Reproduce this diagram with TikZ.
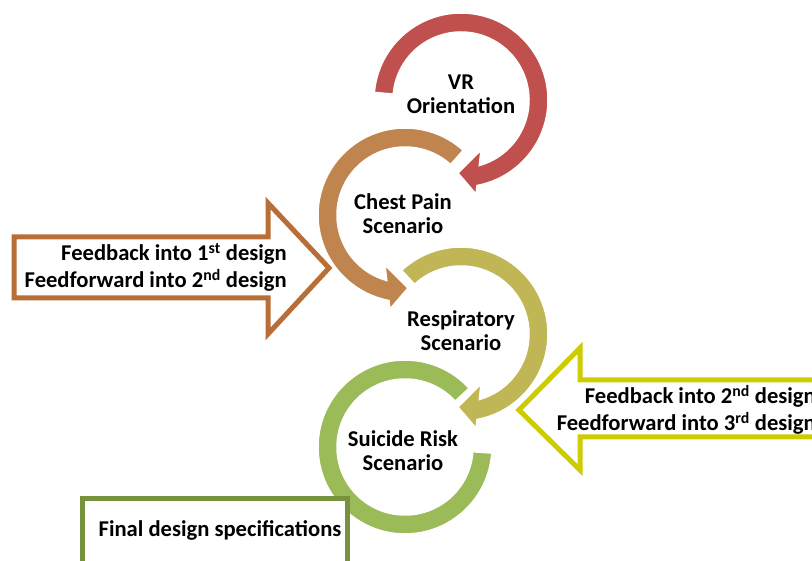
\documentclass[tikz,border=0pt]{standalone}
\usepackage{fontspec}
\setmainfont{Carlito}
\definecolor{cred}{HTML}{C0504D}
\definecolor{corange}{HTML}{C0844F}
\definecolor{cyellow}{HTML}{C0B656}
\definecolor{cgreen}{HTML}{9BBB59}
\definecolor{carrowL}{HTML}{B86E37}
\definecolor{carrowR}{HTML}{CCCC00}
\definecolor{cbox}{HTML}{76923C}
\tikzset{
  ring/.style={draw=white, line width=1.5pt},
  blockarrow/.style={fill=white, line width=5pt, line join=miter},
  ringtext/.style={font=\fontsize{22.6}{24}\selectfont\bfseries, align=center, anchor=base, inner sep=0pt},
  sidetext/.style={font=\fontsize{22.6}{27}\selectfont\bfseries, align=right, anchor=base east, inner sep=0pt},
}
\begin{document}
\begin{tikzpicture}[x=1pt,y=-1pt]
\useasboundingbox (0,0) rectangle (812,561);
\clip (0,0) rectangle (812,561);
\fill[white] (0,0) rectangle (812,561);
% red ring
\begin{scope}[shift={(461,100)}]
\path[ring, fill=cred] (185:87) arc[start angle=185,end angle=439.4,radius=87] -- (15,94) -- (-3,73) -- (20,50) -- (434.4:68) arc[start angle=434.4,end angle=185,radius=68] -- cycle;
\end{scope}
% orange ring
\begin{scope}[shift={(405,215)}]
\path[ring, fill=corange] (-48:87) arc[start angle=-48,end angle=-259.4,radius=87] -- (-15,94) -- (3,73) -- (-20,50) -- (-254.4:68) arc[start angle=-254.4,end angle=-48,radius=68] -- cycle;
\end{scope}
% yellow ring
\begin{scope}[shift={(461,334)}]
\path[ring, fill=cyellow] (227:87) arc[start angle=227,end angle=439.4,radius=87] -- (15,94) -- (-3,73) -- (20,50) -- (434.4:68) arc[start angle=434.4,end angle=227,radius=68] -- cycle;
\end{scope}
% green ring
\begin{scope}[shift={(405,447)}]
\path[ring, fill=cgreen] (-42.5:87) arc[start angle=-42.5,end angle=-356,radius=87] -- (-356:68) arc[start angle=-356,end angle=-42.5,radius=68] -- cycle;
\end{scope}
% ring texts (anchor = baseline of last line)
\node[ringtext] (vr) at (461,114) {VR\\Orientation};
\node[ringtext] (chest) at (403,234) {Chest Pain\\Scenario};
\node[ringtext] (resp) at (461,351) {Respiratory\\Scenario};
\node[ringtext] (suic) at (403,471) {Suicide Risk\\Scenario};
% left block arrow
\draw[blockarrow, draw=carrowL] (14,237) -- (268,237) -- (268,203) -- (329,268) -- (268,334) -- (268,298) -- (14,298) -- cycle;
\node[sidetext] (fb1) at (287,288) {Feedback into 1\textsuperscript{st} design\\Feedforward into 2\textsuperscript{nd} design};
% right block arrow
\draw[blockarrow, draw=carrowR] (830,380) -- (580,380) -- (580,348) -- (519,410) -- (580,470) -- (580,437) -- (830,437);
\node[sidetext] (fb2) at (816,431) {Feedback into 2\textsuperscript{nd} design\\Feedforward into 3\textsuperscript{rd} design};
% final box
\draw[fill=white, draw=cbox, line width=5pt] (82,498) rectangle (347,580);
\node[font=\fontsize{22.6}{24}\selectfont\bfseries, anchor=base, inner sep=0pt] (final) at (220,536) {Final design specifications};
\end{tikzpicture}
\end{document}
